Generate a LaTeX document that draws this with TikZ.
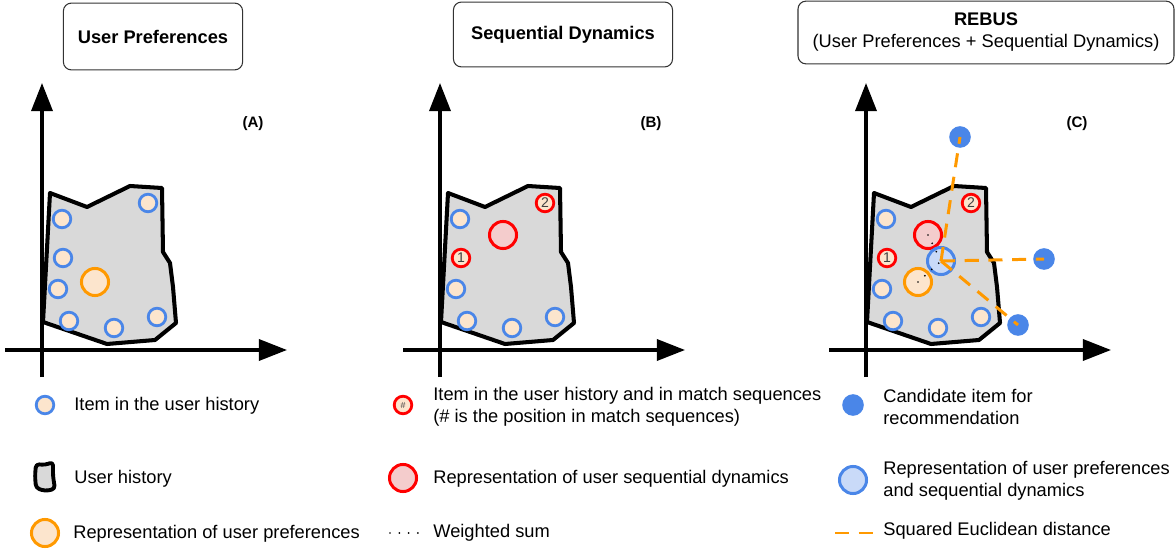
\documentclass[tikz,border=0pt]{standalone}
\usepackage{fontspec}
\setmainfont{Liberation Sans}
\usetikzlibrary{arrows.meta}
\definecolor{itemblue}{HTML}{4A86E8}
\definecolor{itemfill}{HTML}{FCE5CD}
\definecolor{preforange}{HTML}{FF9900}
\definecolor{seqred}{HTML}{FF0000}
\definecolor{seqfill}{HTML}{F4CCCC}
\definecolor{combfill}{HTML}{C9DAF8}
\definecolor{histgray}{HTML}{D9D9D9}
\tikzset{
	axisarrow/.style={line width=1.9pt, -{Triangle[length=16pt,width=12pt]}},
	histarea/.style={draw, line width=2.3pt, line join=round, fill=histgray},
	histitem/.style={circle, draw=itemblue, fill=itemfill, line width=1.6pt, minimum size=10pt, inner sep=0pt, font=\fontsize{8}{8}\selectfont, text=black!75},
	seqitem/.style={histitem, draw=seqred},
	prefrep/.style={circle, draw=preforange, fill=itemfill, line width=1.7pt, minimum size=15.4pt, inner sep=0pt},
	seqrep/.style={prefrep, draw=seqred, fill=seqfill},
	combrep/.style={prefrep, draw=itemblue, fill=combfill},
	candidate/.style={circle, fill=itemblue, minimum size=12.3pt, inner sep=0pt},
	distline/.style={draw=preforange, line width=1.7pt, dash pattern=on 8pt off 5.5pt},
	wsumline/.style={line width=1.1pt, line cap=round, dash pattern=on 0pt off 5.3pt},
	titlebox/.style={draw=black!80, line width=0.6pt, rounded corners=4.5pt, align=center, inner sep=0pt},
	panellabel/.style={font=\bfseries\fontsize{8.6}{10}\selectfont},
	legtext/.style={anchor=west, inner sep=0pt, align=left},
}
\begin{document}
\begin{tikzpicture}[x=0.02cm, y=-0.02cm, font=\fontsize{10.4}{12.5}\selectfont]
	\useasboundingbox (0,0) rectangle (1176,550);
	\node[titlebox, minimum width=102pt, minimum height=38pt] (titleA) at (153,36.5) {\textbf{User Preferences}};
	\node[titlebox, minimum width=124.7pt, minimum height=36.9pt] (titleB) at (563,34.5) {\textbf{Sequential Dynamics}};
	\node[titlebox, minimum width=214pt, minimum height=35.7pt] (titleC) at (986,32.5) {\textbf{REBUS}\\(User Preferences + Sequential Dynamics)};
	\foreach \p/\dx in {A/0, B/398, C/824}{
		\begin{scope}[shift={(\dx,0)}]
			\path (42,377) coordinate (S\p) (42,83) coordinate (Y\p) (5,350) coordinate (W\p) (287,350) coordinate (X\p);
			\draw[axisarrow] (S\p)--(Y\p);
			\draw[axisarrow] (W\p)--(X\p);
			\node[panellabel] (label\p) at (253,124) {(\p)};
			\draw[histarea] (50,193)--(87,207)--(130,186)--(162,188)--(163,252)--(170,263)--(173,287)--(176,323)--(155,340)--(107,344)--(43,322)--cycle;
			\foreach \n/\x/\y in {1/62/219, 3/58/289, 4/69/321, 5/114/328, 6/157/317}{
				\node[histitem] (item\p\n) at (\x,\y) {};
			}
		\end{scope}
	}
	\node[histitem] (itemA2) at (63,258) {};
	\node[histitem] (itemA7) at (148,203) {};
	\foreach \p/\dx in {B/398, C/824}{
		\node[seqitem] (item\p2) at (\dx+63,258) {1};
		\node[seqitem] (item\p7) at (\dx+147,203) {2};
	}
	\node[prefrep] (prefA) at (95,282) {};
	\node[seqrep] (seqB) at (503,235) {};
	\node[seqrep] (seqC) at (928,235) {};
	\node[prefrep] (prefC) at (918,282) {};
	\node[combrep] (combC) at (941,261) {};
	\draw[wsumline] (seqC.center)--(combC.center);
	\draw[wsumline] (prefC.center)--(combC.center);
	\foreach \c/\x/\y in {1/960/137, 2/1044/259, 3/1018/325}{
		\node[candidate] (cand\c) at (\x,\y) {};
		\draw[distline] (combC.center)--(cand\c.center);
	}
	\node[histitem] (legitem) at (45,405) {};
	\node[legtext] (legitemtext) at (74,406) {Item in the user history};
	\draw[histarea, line width=2.2pt, rounded corners=2pt] (36,464)--(45,465)--(53,462)--(53,476)--(55,489)--(45,491)--(36,488)--(35,476)--cycle;
	\node[legtext] (leghisttext) at (74,479) {User history};
	\node[prefrep] (legpref) at (45,533) {};
	\node[legtext] (legpreftext) at (73,534) {Representation of user preferences};
	\node[seqitem, font=\fontsize{5}{5}\selectfont] (legseqitem) at (403,405) {\#};
	\node[legtext] (legseqitemtext) at (433,407) {Item in the user history and in match sequences\\(\# is the position in match sequences)};
	\node[seqrep] (legseq) at (403,478) {};
	\node[legtext] (legseqtext) at (433,479) {Representation of user sequential dynamics};
	\path (390,533) coordinate (legws1) (421,533) coordinate (legws2);
	\draw[wsumline] (legws1)--(legws2);
	\node[legtext] (legwstext) at (433,533) {Weighted sum};
	\node[candidate] (legcand) at (853,405) {};
	\node[legtext] (legcandtext) at (883,407) {Candidate item for\\recommendation};
	\node[combrep] (legcomb) at (853,480) {};
	\node[legtext] (legcombtext) at (883,481) {Representation of user preferences\\and sequential dynamics};
	\path (835,533) coordinate (legd1) (874,533) coordinate (legd2);
	\draw[distline] (legd1)--(legd2);
	\node[legtext] (legdtext) at (883,531) {Squared Euclidean distance};
\end{tikzpicture}
\end{document}
